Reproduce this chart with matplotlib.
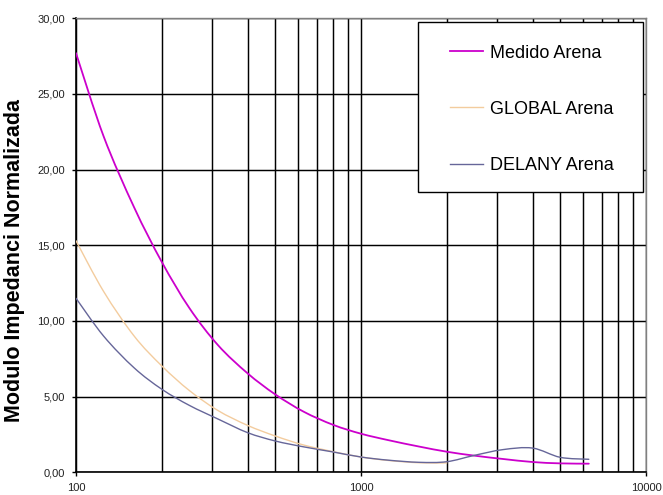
import matplotlib
matplotlib.use("Agg")
import numpy as np
import matplotlib.pyplot as plt
from matplotlib.patches import Rectangle, PathPatch
from matplotlib.path import Path
from matplotlib.lines import Line2D
from matplotlib.ticker import FixedLocator, FixedFormatter, NullFormatter

plt.rcParams['font.family'] = ['Liberation Sans', 'DejaVu Sans']

# One-third octave band centre frequencies (Hz)
freq_medido = [100, 125, 160, 200, 250, 315, 400, 500, 630, 800, 1000,
               1250, 1600, 2000, 2500, 3150, 4000, 5000, 6300]
medido = [27.7, 22.2, 17.5, 13.9, 10.85, 8.4, 6.54, 5.15, 4.0, 3.13, 2.55,
          2.12, 1.7, 1.36, 1.1, 0.88, 0.68, 0.59, 0.57]

freq_global = [100, 125, 160, 200, 250, 315, 400, 500, 630, 800, 1000,
               1250, 1600, 2000]
global_ = [15.3, 11.95, 9.0, 7.03, 5.4, 4.08, 3.1, 2.4, 1.8, 1.36, 1.01,
           0.78, 0.63, 0.62]

freq_delany = [100, 125, 160, 200, 250, 315, 400, 500, 630, 800, 1000,
               1250, 1600, 2000, 2500, 3150, 4000, 5000, 6300]
delany = [11.5, 9.0, 6.9, 5.49, 4.42, 3.52, 2.62, 2.07, 1.68, 1.34, 1.01,
          0.8, 0.66, 0.70, 1.12, 1.5, 1.6, 0.99, 0.86]

series_labels = ['Medido Arena', 'GLOBAL Arena', 'DELANY Arena']
series_colors = ['#CC00CC', '#F3CC9E', '#666699']

y_ticks = [0, 5, 10, 15, 20, 25, 30]
y_tick_labels = ['0,00', '5,00', '10,00', '15,00', '20,00', '25,00', '30,00']
x_ticks = [100, 1000, 10000]
x_tick_labels = ['100', '1000', '10000']
y_label = 'Modulo Impedanci Normalizada'


def smooth_path(fx, fy):
    """Smoothed line through the points (cubic Bezier segments, log-x space)."""
    lx = np.log10(np.asarray(fx, float))
    y = np.asarray(fy, float)
    p = np.column_stack([lx, y])
    pp = np.vstack([p[0], p, p[-1]])
    verts = [p[0]]
    codes = [Path.MOVETO]
    for i in range(len(p) - 1):
        p0, p1, p2, p3 = pp[i], pp[i + 1], pp[i + 2], pp[i + 3]
        c1 = p1 + (p2 - p0) / 6.0
        c2 = p2 - (p3 - p1) / 6.0
        verts += [c1, c2, p2]
        codes += [Path.CURVE4] * 3
    verts = np.array(verts)
    verts[:, 0] = 10 ** verts[:, 0]
    return Path(verts, codes)


W, H = 663, 495
fig = plt.figure(figsize=(W / 100, H / 100), dpi=100)
ax = fig.add_axes([76 / W, 1 - 472.3 / H, (646 - 76) / W, (472.3 - 18.3) / H])

ax.set_xscale('log')
ax.set_xlim(100, 10000)
ax.set_ylim(0, 30)

handles = []
for fx, fy, lab, col, lw in zip([freq_medido, freq_global, freq_delany],
                                [medido, global_, delany],
                                series_labels, series_colors, [1.3, 1.0, 1.0]):
    patch = PathPatch(smooth_path(fx, fy), facecolor='none', edgecolor=col,
                      lw=lw, zorder=3, capstyle='round', joinstyle='round')
    ax.add_patch(patch)
    handles.append(Line2D([], [], color=col, lw=lw))

# Grid: every decade subdivision on x, every 5 units on y
ax.xaxis.set_major_locator(FixedLocator(x_ticks))
ax.xaxis.set_major_formatter(FixedFormatter(x_tick_labels))
minor = [m * d for d in (100, 1000) for m in range(2, 10)]
ax.xaxis.set_minor_locator(FixedLocator(minor))
ax.xaxis.set_minor_formatter(NullFormatter())
ax.yaxis.set_major_locator(FixedLocator(y_ticks))
ax.yaxis.set_major_formatter(FixedFormatter(y_tick_labels))

ax.grid(True, which='major', axis='both', color='black', lw=1.05, zorder=1)
ax.grid(True, which='minor', axis='x', color='black', lw=1.05, zorder=1)
ax.set_axisbelow(True)

for side in ('left', 'bottom'):
    ax.spines[side].set_color('black')
    ax.spines[side].set_linewidth(1.2)
for side in ('top', 'right'):
    ax.spines[side].set_color('#808080')
    ax.spines[side].set_linewidth(1.0)

ax.tick_params(axis='both', which='major', direction='out', length=3,
               width=1.0, colors='black', labelsize=8, labelcolor='#222222')
ax.tick_params(axis='y', pad=5)
ax.tick_params(axis='x', pad=5)
ax.tick_params(axis='x', which='minor', length=0)

fig.text(15 / W, 1 - 261 / H, y_label, rotation=90, ha='center', va='center',
         fontsize=15.5, fontweight='bold', color='black')

# Legend box
box = Rectangle((418 / W, 1 - 192 / H), 225 / W, 170 / H,
                transform=fig.transFigure, facecolor='white',
                edgecolor='black', lw=1.0, zorder=5)
fig.add_artist(box)
leg = fig.legend(handles=handles, labels=series_labels, loc='upper left',
                 bbox_to_anchor=(450 / W, 1 - 44.5 / H), frameon=False,
                 fontsize=13, borderpad=0, borderaxespad=0,
                 handlelength=1.83, handletextpad=0.4, labelspacing=2.17)
leg.set_zorder(6)

fig.savefig('out.png', dpi=100)
